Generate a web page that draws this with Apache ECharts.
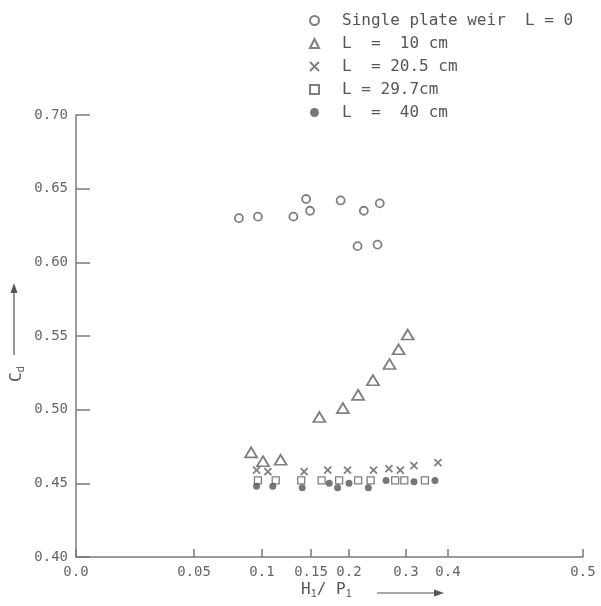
<!DOCTYPE html>
<html>
<head>
<meta charset="utf-8">
<script src="https://cdn.jsdelivr.net/npm/echarts@6/dist/echarts.min.js"></script>
<style>
  html, body { margin: 0; padding: 0; background: #fff; }
  #chart { width: 601px; height: 606px; }
</style>
</head>
<body>
<div id="chart"></div>
<script>
// H1/P1 tick labels as printed on the figure
const xTickVals = [0, 0.05, 0.1, 0.15, 0.2, 0.3, 0.4, 0.5]
const xTickLabels = ['0.0', '0.05', '0.1', '0.15', '0.2', '0.3', '0.4', '0.5']

const seriesNames = ['Single plate weir  L = 0', 'L  =  10 cm', 'L  = 20.5 cm', 'L = 29.7cm', 'L  =  40 cm']

const plateX = [0.083, 0.097, 0.132, 0.145, 0.149, 0.189, 0.226, 0.254, 0.215, 0.250]
const plateY = [0.630, 0.631, 0.631, 0.643, 0.635, 0.642, 0.635, 0.640, 0.611, 0.612]

const l10X = [0.092, 0.101, 0.119, 0.161, 0.192, 0.216, 0.242, 0.271, 0.287, 0.304]
const l10Y = [0.471, 0.465, 0.466, 0.495, 0.501, 0.510, 0.520, 0.531, 0.541, 0.551]

const l205X = [0.096, 0.106, 0.143, 0.172, 0.198, 0.243, 0.270, 0.290, 0.319, 0.376]
const l205Y = [0.459, 0.458, 0.458, 0.459, 0.459, 0.459, 0.460, 0.459, 0.462, 0.464]

const l297X = [0.097, 0.114, 0.140, 0.164, 0.187, 0.216, 0.238, 0.281, 0.297, 0.345]
const l297Y = [0.452, 0.452, 0.452, 0.452, 0.452, 0.452, 0.452, 0.452, 0.452, 0.452]

const l40X = [0.096, 0.111, 0.141, 0.174, 0.185, 0.200, 0.234, 0.265, 0.319, 0.369]
const l40Y = [0.448, 0.448, 0.447, 0.450, 0.447, 0.450, 0.447, 0.452, 0.451, 0.452]

// the hand-drawn x scale is uneven: where each printed tick sits along the axis
const xTickPos = [0, 118, 186, 235, 273, 330, 372, 507]

function warp(v) {
  for (let i = 1; i < xTickVals.length; i++) {
    if (v <= xTickVals[i]) {
      const a = xTickVals[i - 1], b = xTickVals[i]
      return xTickPos[i - 1] + (v - a) / (b - a) * (xTickPos[i] - xTickPos[i - 1])
    }
  }
  return xTickPos[xTickPos.length - 1]
}

const pts = (xs, ys) => xs.map((x, i) => [warp(x), ys[i]])

const INK = '#5f5f5f'
const FONT = 'DejaVu Sans Mono'

const chart = echarts.init(document.getElementById('chart'))

chart.setOption({
  animation: false,
  backgroundColor: '#fff',
  textStyle: { fontFamily: FONT },
  grid: { left: 76, right: 18, top: 115, bottom: 49 },
  legend: {
    orient: 'vertical',
    left: 304,
    top: 6,
    itemWidth: 9,
    itemHeight: 9,
    itemGap: 4,
    textStyle: { color: '#555', fontSize: 16, fontFamily: FONT, lineHeight: 19, padding: [0, 0, 0, 18] },
    data: seriesNames,
  },
  xAxis: {
    type: 'value',
    min: 0,
    max: xTickPos[xTickPos.length - 1],
    splitLine: { show: false },
    axisLine: { lineStyle: { color: '#7a7a7a', width: 1.5 } },
    axisTick: { inside: true, length: 8, customValues: xTickPos, lineStyle: { color: '#7a7a7a', width: 1.5 } },
    axisLabel: {
      customValues: xTickPos,
      color: '#666',
      fontSize: 14,
      margin: 8,
      formatter: (v) => {
        const i = xTickPos.indexOf(v)
        return i >= 0 ? xTickLabels[i] : ''
      },
    },
  },
  yAxis: {
    type: 'value',
    min: 0.4,
    max: 0.7,
    interval: 0.05,
    splitLine: { show: false },
    axisLine: { show: true, lineStyle: { color: '#7a7a7a', width: 1.5 } },
    axisTick: { inside: true, length: 14, lineStyle: { color: '#7a7a7a', width: 1.5 } },
    axisLabel: { color: '#666', fontSize: 14, margin: 8, formatter: (v) => v.toFixed(2) },
  },
  series: [
    {
      name: seriesNames[0], type: 'scatter', symbol: 'circle', symbolSize: 8,
      itemStyle: { color: 'transparent', borderColor: INK, borderWidth: 1.8 },
      data: pts(plateX, plateY),
    },
    {
      name: seriesNames[1], type: 'scatter', symbol: 'triangle', symbolSize: [12, 10],
      itemStyle: { color: 'transparent', borderColor: INK, borderWidth: 1.8 },
      data: pts(l10X, l10Y),
    },
    {
      name: seriesNames[2], type: 'scatter', symbol: 'path://M0,0L10,10M10,0L0,10', symbolSize: 7,
      itemStyle: { color: 'transparent', borderColor: INK, borderWidth: 1.8 },
      data: pts(l205X, l205Y),
    },
    {
      name: seriesNames[3], type: 'scatter', symbol: 'rect', symbolSize: 7,
      itemStyle: { color: 'transparent', borderColor: INK, borderWidth: 1.3 },
      data: pts(l297X, l297Y),
    },
    {
      name: seriesNames[4], type: 'scatter', symbol: 'circle', symbolSize: 7,
      itemStyle: { color: '#555' },
      data: pts(l40X, l40Y),
    },
  ],
  graphic: [
    // x axis title with arrow
    {
      type: 'text', left: 301, top: 582,
      style: {
        text: 'H{s|1}/ P{s|1}', fill: '#555', font: '16px ' + FONT,
        rich: { s: { fontSize: 11, fill: '#555', padding: [8, 0, 0, 0] } },
      },
    },
    { type: 'line', shape: { x1: 377, y1: 593, x2: 441, y2: 593 }, style: { stroke: '#555', lineWidth: 1.2 } },
    { type: 'polygon', shape: { points: [[444, 593], [434, 589.5], [434, 596.5]] }, style: { fill: '#555' } },
    // y axis title with arrow
    {
      type: 'text', x: 7, y: 382, rotation: Math.PI / 2,
      style: {
        text: 'C{s|d}', fill: '#555', font: '16px ' + FONT,
        rich: { s: { fontSize: 11, fill: '#555', padding: [8, 0, 0, 0] } },
      },
    },
    { type: 'line', shape: { x1: 14, y1: 355, x2: 14, y2: 287 }, style: { stroke: '#555', lineWidth: 1.2 } },
    { type: 'polygon', shape: { points: [[14, 283], [10.5, 293], [17.5, 293]] }, style: { fill: '#555' } },
  ],
})
</script>
</body>
</html>
